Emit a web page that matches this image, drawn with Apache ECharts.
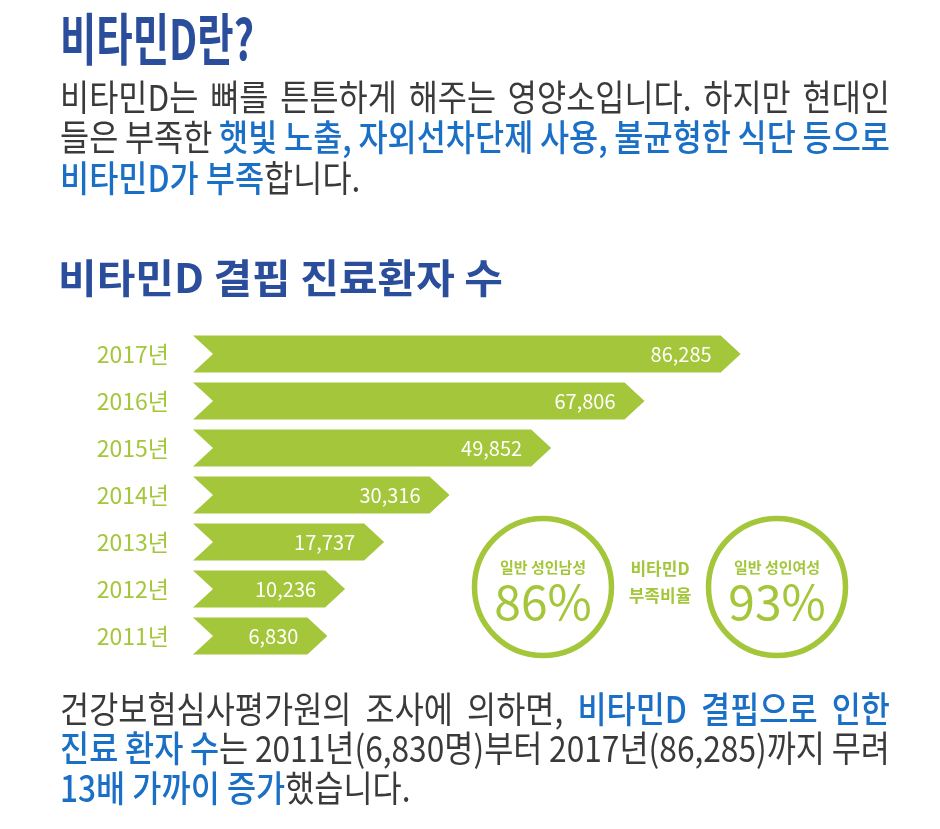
<!DOCTYPE html>
<html>
<head>
<meta charset="utf-8">
<script src="https://cdn.jsdelivr.net/npm/echarts@6/dist/echarts.min.js"></script>
<style>
html, body { margin: 0; padding: 0; background: #fff; }
#main { width: 940px; height: 829px; }
</style>
</head>
<body>
<div id="main"></div>
<script>
// 연도별 비타민D 결핍 진료환자 수
var years = ['2011년', '2012년', '2013년', '2014년', '2015년', '2016년', '2017년'];
var patients = [6830, 10236, 17737, 30316, 49852, 67806, 86285];

// 비타민D 부족비율 (%)
var groups = ['일반 성인남성', '일반 성인여성'];
var shortage = [86, 93];

// 본문 (글자, 강조여부)
var introLines = [
    [['비타민D는 뼈를 튼튼하게 해주는 영양소입니다. 하지만 현대인', 0]],
    [['들은 부족한 ', 0], ['햇빛 노출, 자외선차단제 사용, 불균형한 식단 등으로', 1]],
    [['비타민D가 부족', 1], ['합니다.', 0]]
];
var noteLines = [
    [['건강보험심사평가원의 조사에 의하면, ', 0], ['비타민D 결핍으로 인한', 1]],
    [['진료 환자 수', 1], ['는 2011년(6,830명)부터 2017년(86,285)까지 무려', 0]],
    [['13배 가까이 증가', 1], ['했습니다.', 0]]
];

var FONT = '"Noto Sans CJK KR", "Noto Sans", sans-serif';
var GREEN = '#a4c63a';
var TITLE_BLUE = '#2a4e9b';
var HL_BLUE = '#1a6fc6';
var GRAY = '#3a3a3a';

var ctx = document.createElement('canvas').getContext('2d');
function textW(t, weight, size) {
    ctx.font = weight + ' ' + size + 'px ' + FONT;
    return ctx.measureText(t).width;
}

var graphics = [];

// 제목: 폭에 맞춰 가로 비율 조정
function addTitle(text, x, y, size, width) {
    var sx = width / textW(text, 'bold', size);
    graphics.push({
        type: 'text', x: x, y: y, scaleX: sx,
        style: { text: text, x: 0, y: 0, fill: TITLE_BLUE, fontFamily: FONT, fontWeight: 'bold',
                 fontSize: size, verticalAlign: 'middle' }
    });
}

// 한 줄 배치 (양쪽 정렬 가능)
function addLine(runs, x0, y, size, sx, right) {
    var words = [], cur = [];
    runs.forEach(function (r) {
        for (var ch of r[0]) {
            if (ch === ' ') {
                if (cur.length) words.push(cur);
                cur = [];
            } else {
                var last = cur[cur.length - 1];
                if (last && last.hl === r[1]) last.t += ch;
                else cur.push({ t: ch, hl: r[1] });
            }
        }
    });
    if (cur.length) words.push(cur);

    var total = 0;
    words.forEach(function (w) {
        w.forEach(function (s) {
            s.weight = s.hl ? '500' : 'normal';
            s.w = textW(s.t, s.weight, size) * sx;
            total += s.w;
        });
    });
    var gap = right ? (right - x0 - total) / (words.length - 1) : textW(' ', 'normal', size) * sx;
    var x = x0;
    words.forEach(function (w) {
        w.forEach(function (s) {
            graphics.push({
                type: 'text', x: x, y: y, scaleX: sx,
                style: { text: s.t, x: 0, y: 0, fill: s.hl ? HL_BLUE : GRAY, fontFamily: FONT,
                         fontWeight: s.weight, fontSize: size, verticalAlign: 'middle' }
            });
            x += s.w;
        });
        x += gap;
    });
}

addTitle('비타민D란?', 60, 39, 56, 194);
addTitle('비타민D 결핍 진료환자 수', 58, 278, 40, 445);

var introY = [97, 137, 178];
introLines.forEach(function (l, i) {
    addLine(l, 60, introY[i], 36, 0.88, i < introLines.length - 1 ? 890 : null);
});
var noteY = [709, 748, 788];
noteLines.forEach(function (l, i) {
    addLine(l, 60, noteY[i], 36, 0.88, i < noteLines.length - 1 ? 890 : null);
});

// 부족비율 원
var circleX = [543, 777];
groups.forEach(function (g, i) {
    graphics.push({
        type: 'circle', shape: { cx: circleX[i], cy: 587, r: 68.5 },
        style: { fill: 'none', stroke: GREEN, lineWidth: 5.5 }
    });
    graphics.push({
        type: 'text', x: circleX[i], y: 567,
        style: { text: g, fill: GREEN, fontFamily: FONT, fontSize: 15, fontWeight: 'bold',
                 align: 'center', verticalAlign: 'middle' }
    });
    graphics.push({
        type: 'text', x: circleX[i], y: 602,
        style: { text: shortage[i] + '%', fill: GREEN, fontFamily: FONT, fontSize: 48,
                 align: 'center', verticalAlign: 'middle' }
    });
});
graphics.push({
    type: 'text', x: 660, y: 569,
    style: { text: '비타민D', fill: GREEN, fontFamily: FONT, fontSize: 17, fontWeight: 'bold',
             align: 'center', verticalAlign: 'middle' }
});
graphics.push({
    type: 'text', x: 660, y: 596,
    style: { text: '부족비율', fill: GREEN, fontFamily: FONT, fontSize: 17, fontWeight: 'bold',
             align: 'center', verticalAlign: 'middle' }
});

var X_MIN = -19000;
var NOTCH = 20;

var mcharts = echarts.init(document.getElementById('main'));

var option = {
    animation: false,
    textStyle: { fontFamily: FONT },
    grid: { left: 193, right: 128, top: 330.5, bottom: 169.5 },
    xAxis: { type: 'value', min: X_MIN, max: 100000, show: false },
    yAxis: {
        type: 'category',
        data: years,
        axisLine: { show: false },
        axisTick: { show: false },
        axisLabel: { color: GREEN, fontSize: 23, margin: 24, fontFamily: FONT }
    },
    graphic: graphics,
    series: [{
        type: 'custom',
        data: patients.map(function (v, i) { return [v, i]; }),
        encode: { x: 0, y: 1 },
        renderItem: function (params, api) {
            var v = api.value(0), c = api.value(1);
            var tip = api.coord([v, c]);
            var base = api.coord([X_MIN, c]);
            var h = api.size([0, 1])[1] * 0.79 / 2;
            var y = tip[1];
            return {
                type: 'group',
                children: [{
                    type: 'polygon',
                    shape: { points: [
                        [base[0], y - h], [tip[0] - NOTCH, y - h], [tip[0], y],
                        [tip[0] - NOTCH, y + h], [base[0], y + h], [base[0] + NOTCH, y]
                    ] },
                    style: { fill: GREEN }
                }, {
                    type: 'text',
                    x: tip[0] - 29, y: y,
                    style: { text: echarts.format.addCommas(v), fill: '#fff', fontFamily: FONT,
                             fontSize: 20, align: 'right', verticalAlign: 'middle' }
                }]
            };
        }
    }]
};

mcharts.setOption(option, true);
</script>
</body>
</html>
